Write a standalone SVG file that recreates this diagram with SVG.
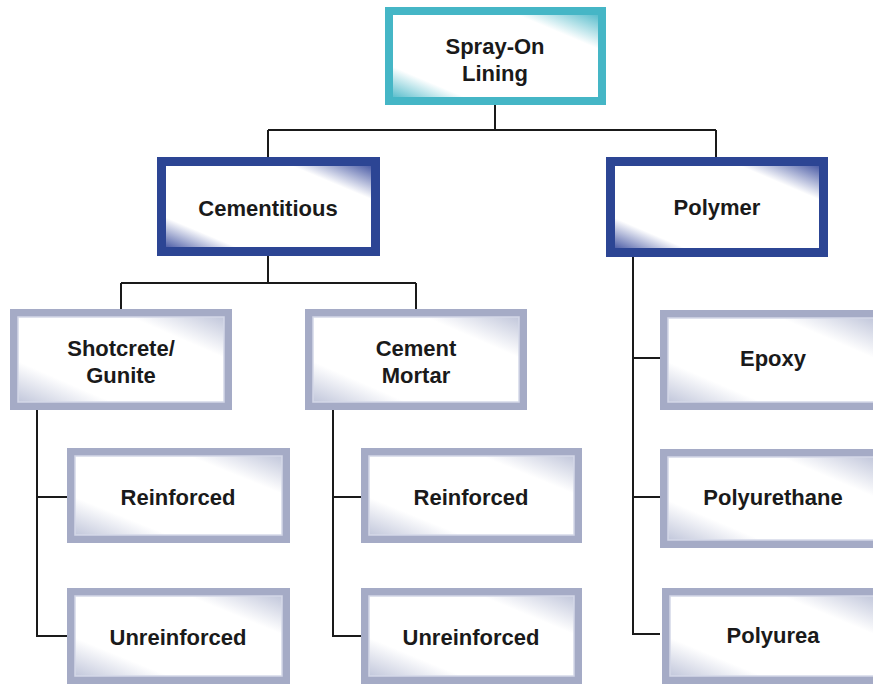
<svg xmlns="http://www.w3.org/2000/svg" width="873" height="686" viewBox="0 0 873 686">
<defs>
<linearGradient id="gTeal" x1="0" y1="1" x2="1" y2="0">
<stop offset="0" stop-color="#3fb3c4"/><stop offset="0.2" stop-color="#ffffff"/><stop offset="0.78" stop-color="#ffffff"/><stop offset="1" stop-color="#3fb3c4"/>
</linearGradient>
<linearGradient id="gBlue" x1="0" y1="1" x2="1" y2="0">
<stop offset="0" stop-color="#2b3f96"/><stop offset="0.2" stop-color="#ffffff"/><stop offset="0.78" stop-color="#ffffff"/><stop offset="1" stop-color="#2b3f96"/>
</linearGradient>
<linearGradient id="gGray" x1="0" y1="1" x2="1" y2="0">
<stop offset="0" stop-color="#b9bfd6"/><stop offset="0.25" stop-color="#ffffff"/><stop offset="0.75" stop-color="#ffffff"/><stop offset="1" stop-color="#b9bfd6"/>
</linearGradient>
</defs>
<style>
text{font-family:"Liberation Sans",Arial,sans-serif;font-weight:bold;font-size:22px;fill:#1a1a1a;text-anchor:middle}
.teal{fill:url(#gTeal);stroke:#45b6c6;stroke-width:8}
.blue{fill:url(#gBlue);stroke:#2c4594;stroke-width:9}
.gray{fill:url(#gGray);stroke:#a5abc6;stroke-width:8}
.inner{fill:none;stroke:#d4d8e8;stroke-width:1.5}
.conn{fill:none;stroke:#1a1a1a;stroke-width:2}
</style>
<rect width="873" height="686" fill="#ffffff"/>
<g id="connectors">
<path class="conn" d="M495 104V130M268 130H716M268 130V157M716 130V157"/>
<path class="conn" d="M268 256V283M121 283H416M121 283V309M416 283V309"/>
<path class="conn" d="M37 410V636H67M37 497H67"/>
<path class="conn" d="M333 410V636H361M333 497H361"/>
<path class="conn" d="M633 257V634H660M633 358H660M633 497H660"/>
</g>
<g id="spray-on-lining">
<rect class="teal" x="389" y="11" width="213" height="90"/>
<text x="495" y="54">Spray-On</text>
<text x="495" y="81">Lining</text>
</g>
<g id="cementitious">
<rect class="blue" x="161.5" y="161.5" width="214" height="90"/>
<text x="268" y="216">Cementitious</text>
</g>
<g id="polymer">
<rect class="blue" x="610.5" y="161.5" width="213" height="91"/>
<text x="717" y="215">Polymer</text>
</g>
<g id="shotcrete">
<rect class="gray" x="14" y="313" width="214" height="93"/>
<rect class="inner" x="18" y="317" width="206" height="85"/>
<text x="121" y="356">Shotcrete/</text>
<text x="121" y="383">Gunite</text>
</g>
<g id="cement-mortar">
<rect class="gray" x="309" y="313" width="214" height="93"/>
<rect class="inner" x="313" y="317" width="206" height="85"/>
<text x="416" y="356">Cement</text>
<text x="416" y="383">Mortar</text>
</g>
<g id="reinforced-1">
<rect class="gray" x="71" y="452" width="215" height="87"/>
<rect class="inner" x="75" y="456" width="207" height="79"/>
<text x="178" y="505">Reinforced</text>
</g>
<g id="unreinforced-1">
<rect class="gray" x="71" y="592" width="215" height="88"/>
<rect class="inner" x="75" y="596" width="207" height="80"/>
<text x="178" y="645">Unreinforced</text>
</g>
<g id="reinforced-2">
<rect class="gray" x="365" y="452" width="213" height="87"/>
<rect class="inner" x="369" y="456" width="205" height="79"/>
<text x="471" y="505">Reinforced</text>
</g>
<g id="unreinforced-2">
<rect class="gray" x="365" y="592" width="213" height="88"/>
<rect class="inner" x="369" y="596" width="205" height="80"/>
<text x="471" y="645">Unreinforced</text>
</g>
<g id="epoxy">
<rect class="gray" x="664" y="314" width="214" height="92"/>
<rect class="inner" x="668" y="318" width="206" height="84"/>
<text x="773" y="366">Epoxy</text>
</g>
<g id="polyurethane">
<rect class="gray" x="664" y="453" width="214" height="91"/>
<rect class="inner" x="668" y="457" width="206" height="83"/>
<text x="773" y="505">Polyurethane</text>
</g>
<g id="polyurea">
<rect class="gray" x="666" y="592" width="212" height="88"/>
<rect class="inner" x="670" y="596" width="204" height="80"/>
<text x="773" y="643">Polyurea</text>
</g>
</svg>
